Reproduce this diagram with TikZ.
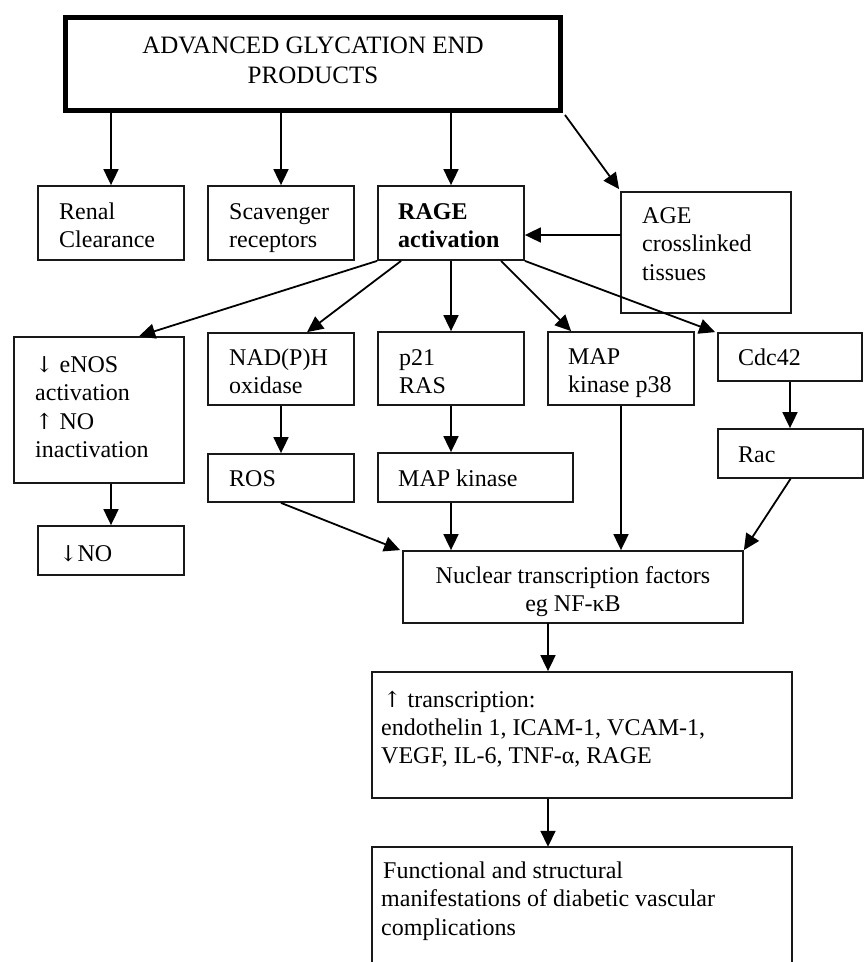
\documentclass[tikz,border=0pt]{standalone}
\usepackage{fontspec}
\setmainfont{Liberation Serif}
\newfontfamily\arrowfont{DejaVu Serif}
\newcommand{\dnarr}{{\arrowfont\fontsize{22}{28}\selectfont ↓}}
\newcommand{\uparr}{{\arrowfont\fontsize{22}{28}\selectfont ↑}}
\usetikzlibrary{arrows.meta,calc}
\newcommand{\mlines}[2][l]{\begin{tabular}[t]{@{}#1@{}}#2\end{tabular}}
\begin{document}
\begin{tikzpicture}[x=1pt,y=-1pt,
  box/.style={draw=black!90, line width=1.8pt, rectangle, inner sep=0pt},
  bigbox/.style={draw=black, line width=5pt, rectangle, inner sep=0pt},
  txt/.style={inner sep=0pt, anchor=base west, text=black, font=\fontsize{24}{28.5}\selectfont},
  arr/.style={draw=black, line width=1.8pt, -{Triangle[length=16pt,width=15pt]}}]
\useasboundingbox (0,0) rectangle (866,962);
% boxes
\node[bigbox, minimum width=495pt, minimum height=93pt] (top) at (313,64) {};
\node[box, minimum width=146pt, minimum height=74pt] (renal) at (111,223) {};
\node[box, minimum width=146pt, minimum height=74pt] (scav) at (281,223) {};
\node[box, minimum width=146pt, minimum height=74pt] (rage) at (451,223) {};
\node[box, minimum width=170pt, minimum height=121pt] (age) at (706,252.5) {};
\node[box, minimum width=170pt, minimum height=146pt] (enos) at (99,410) {};
\node[box, minimum width=146pt, minimum height=72pt] (nad) at (281,369) {};
\node[box, minimum width=146pt, minimum height=73pt] (p21) at (451,368.5) {};
\node[box, minimum width=146pt, minimum height=73pt] (p38) at (621,368.5) {};
\node[box, minimum width=144pt, minimum height=48pt] (cdc) at (790,357) {};
\node[box, minimum width=146pt, minimum height=48pt] (ros) at (281,478) {};
\node[box, minimum width=195pt, minimum height=49pt] (mapk) at (475.5,477.5) {};
\node[box, minimum width=145pt, minimum height=49pt] (rac) at (790.5,453.5) {};
\node[box, minimum width=146pt, minimum height=49pt] (no) at (111,550.5) {};
\node[box, minimum width=340pt, minimum height=72pt] (nuc) at (573,587) {};
\node[box, minimum width=420pt, minimum height=126pt] (tr) at (582,735) {};
\node[inner sep=0pt, minimum width=420pt, minimum height=115pt] (func) at (582,904.5) {};
\draw[line width=1.8pt, draw=black!90] (func.south west) -- (func.north west) -- (func.north east) -- (func.south east);
% texts
\node[txt, anchor=base, font=\fontsize{25}{30}\selectfont] (topT) at (313,53) {\mlines[c]{ADVANCED GLYCATION END\\PRODUCTS}};
\node[txt] (renalT) at (59,219) {\mlines{Renal\\Clearance}};
\node[txt] (scavT) at (229,219) {\mlines{Scavenger\\receptors}};
\node[txt] (rageT) at (398,219) {\mlines{\textbf{RAGE}\\\textbf{activation}}};
\node[txt] (ageT) at (642,223) {\mlines{AGE\\crosslinked\\tissues}};
\node[txt] (enosT) at (35,372) {\mlines{\dnarr\ eNOS\\activation\\\uparr\ NO\\inactivation}};
\node[txt] (nadT) at (229,365) {\mlines{NAD(P)H\\oxidase}};
\node[txt] (p21T) at (399,365) {\mlines{p21\\RAS}};
\node[txt] (p38T) at (568,364) {\mlines{MAP\\kinase p38}};
\node[txt] (cdcT) at (738,365) {Cdc42};
\node[txt] (rosT) at (229,486) {ROS};
\node[txt] (mapkT) at (398,486) {MAP kinase};
\node[txt] (racT) at (738,462) {Rac};
\node[txt] (noT) at (59,561) {\dnarr NO};
\node[txt, anchor=base] (nucT) at (573,583) {\mlines[c]{Nuclear transcription factors\\eg NF-κB}};
\node[txt, font=\fontsize{24}{28}\selectfont] (trT) at (381,707) {\mlines{\hspace{2pt}\uparr\ transcription:\\endothelin 1, ICAM-1, VCAM-1,\\VEGF, IL-6, TNF-α, RAGE}};
\node[txt] (funcT) at (381,878) {\mlines{\hspace{2pt}Functional and structural\\manifestations of diabetic vascular\\complications}};
% helper coordinates
\coordinate (ageL) at (621,235);
\coordinate (nucOut) at (548,623);
% connectors
\draw[arr] (renal.north |- top.south) -- (renal.north);
\draw[arr] (scav.north |- top.south) -- (scav.north);
\draw[arr] (rage.north |- top.south) -- (rage.north);
\draw[arr] ($(top.south east)+(2,2)$) -- ($(age.north west)+(-1,-2)$);
\draw[arr] (ageL) -- (ageL -| rage.east);
\draw[arr] (rage.south west) -- ($(enos.north west)+(126,0)$);
\draw[arr] ($(rage.south west)+(24,0)$) -- ($(nad.north west)+(100,0)$);
\draw[arr] (rage.south) -- (p21.north);
\draw[arr] ($(rage.south west)+(124,0)$) -- ($(p38.north west)+(24,0)$);
\draw[arr] (rage.south east) -- ($(cdc.north west)+(-2,0)$);
\draw[arr] (no.north |- enos.south) -- (no.north);
\draw[arr] (nad.south) -- (ros.north);
\draw[arr] (p21.south) -- (p21.south |- mapk.north);
\draw[arr] (cdc.south) -- (cdc.south |- rac.north);
\draw[arr] (ros.south) -- ($(nuc.north west)+(-2,0)$);
\draw[arr] (p21.south |- mapk.south) -- (p21.south |- nuc.north);
\draw[arr] (p38.south) -- (p38.south |- nuc.north);
\draw[arr] (rac.south) -- (nuc.north east);
\draw[arr] (nucOut) -- (nucOut |- tr.north);
\draw[arr] (nucOut |- tr.south) -- (nucOut |- func.north);
\end{tikzpicture}
\end{document}
